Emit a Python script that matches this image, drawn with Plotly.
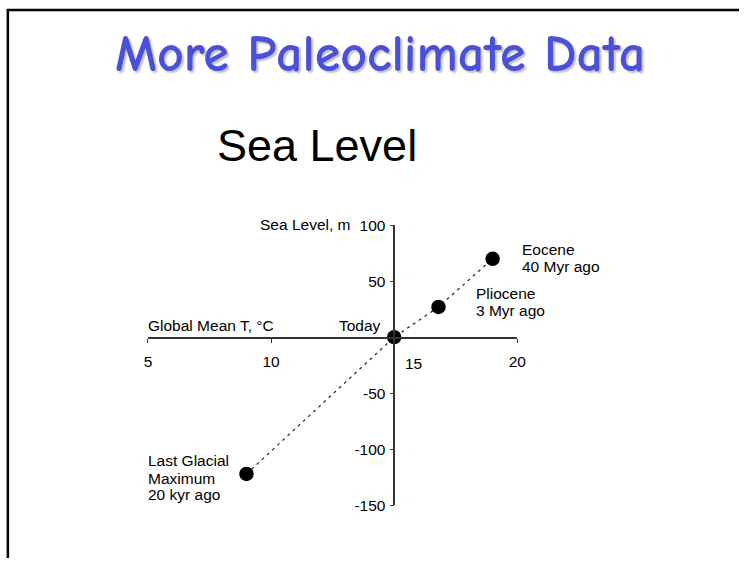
import plotly.graph_objects as go

# ---- data ----
periods = ["Last Glacial Maximum", "Today", "Pliocene", "Eocene"]
global_mean_t = [9.0, 15.0, 16.8, 19.0]      # deg C
sea_level = [-122, 0, 27, 70]                 # m

x_ticks = [5, 10, 20]
x_tick_text = ["5", "10", "20"]
x_range = [5, 20]
y_ticks = [-150, -100, -50, 50, 100]
y_tick_text = ["-150", "-100", "-50", "50", "100"]
y_range = [-150, 100]

W, H = 748, 566
FONT = "Liberation Sans, Arial, Helvetica, sans-serif"

# calibration of the capture: picture pixel = T + S * page pixel
SX, TX = 0.9838, 4.13
SY, TY = 0.9695, 8.24


def fx(x):   # picture x pixel -> page pixel
    return (x - TX) / SX


def fy(y):   # picture y pixel -> page pixel
    return (y - TY) / SY


def px(x):   # picture x pixel -> paper fraction
    return fx(x) / W


def py(y):   # picture y pixel -> paper fraction
    return 1 - fy(y) / H


fig = go.Figure()
fig.add_trace(go.Scatter(
    x=global_mean_t, y=sea_level, mode="lines+markers",
    line=dict(color="#333333", width=1.3, dash="3px,4px"),
    marker=dict(color="black", size=14.5),
    cliponaxis=False, showlegend=False, hoverinfo="skip",
))


def ann(text, x, y, xanchor, xshift=0, yshift=0, size=15.5):
    fig.add_annotation(text=text, x=x, y=y, xref="x", yref="y",
                       xanchor=xanchor, yanchor="middle", showarrow=False,
                       xshift=xshift / SX, yshift=yshift / SY,
                       font=dict(family=FONT, size=size, color="black"))


# point labels
ann("Eocene", global_mean_t[3], sea_level[3], "left", 27, 9)
ann("40 Myr ago", global_mean_t[3], sea_level[3], "left", 27, -7)
ann("Pliocene", global_mean_t[2], sea_level[2], "left", 35, 13)
ann("3 Myr ago", global_mean_t[2], sea_level[2], "left", 35, -3)
ann("Last Glacial", x_range[0], sea_level[0], "left", -2, 13)
ann("Maximum", x_range[0], sea_level[0], "left", -2, -4)
ann("20 kyr ago", x_range[0], sea_level[0], "left", -2, -20)
ann("Today", global_mean_t[1], sea_level[1], "right", -11, 11)
# axis titles
ann("Sea Level, m", 15, y_range[1], "right", -41, 1)
ann("Global Mean T, °C", x_range[0], 0, "left", -2, 11)
# tick label 15 (shifted right of the y axis)
ann("15", 15, 0, "center", 19, -25)

# slide title and chart title
fig.add_annotation(text="More Paleoclimate Data", x=px(381), y=py(53),
                   xref="paper", yref="paper", showarrow=False,
                   xanchor="center", yanchor="middle",
                   font=dict(family="Comic Sans MS, Comic Neue, DejaVu Sans", size=52,
                             color="#4a50da", weight="bold",
                             shadow="2px 2px 2px rgba(0,0,0,0.25)"))
fig.add_annotation(text="Sea Level", x=px(318), y=py(145), 
                   xref="paper", yref="paper", showarrow=False,
                   xanchor="center", yanchor="middle",
                   font=dict(family=FONT, size=45, color="black"))

# slide border (top and left)
fig.add_shape(type="line", xref="paper", yref="paper",
              x0=px(7), x1=1, y0=1 - 1 / H, y1=1 - 1 / H,
              line=dict(color="black", width=2.5))
fig.add_shape(type="line", xref="paper", yref="paper",
              x0=px(8), x1=px(8), y0=0, y1=1,
              line=dict(color="black", width=2.5))

fig.update_layout(
    width=W, height=H, autosize=False,
    margin=dict(l=0, r=0, t=0, b=0),
    paper_bgcolor="white", plot_bgcolor="white",
    xaxis=dict(domain=[px(148.3), px(518)], range=x_range,
               tickvals=x_ticks, ticktext=x_tick_text,
               anchor="free", position=py(337),
               showline=True, linecolor="#333333", linewidth=1.5,
               ticks="outside", ticklen=4, tickcolor="#333333", tickwidth=1,
               ticklabelstandoff=6,
               showgrid=False, zeroline=False,
               tickfont=dict(family=FONT, size=15.5, color="black")),
    yaxis=dict(domain=[py(504.3), py(224.3)], range=y_range,
               tickvals=y_ticks, ticktext=y_tick_text,
               anchor="free", position=px(394.9),
               showline=True, linecolor="#333333", linewidth=1.5,
               ticks="outside", ticklen=4, tickcolor="#333333", tickwidth=1,
               ticklabelstandoff=1,
               showgrid=False, zeroline=False,
               tickfont=dict(family=FONT, size=15.5, color="black")),
)

fig.write_html("out.html", config={"displayModeBar": False, "responsive": False},
               post_script="document.body.style.margin='0';document.body.style.overflow='hidden';")
